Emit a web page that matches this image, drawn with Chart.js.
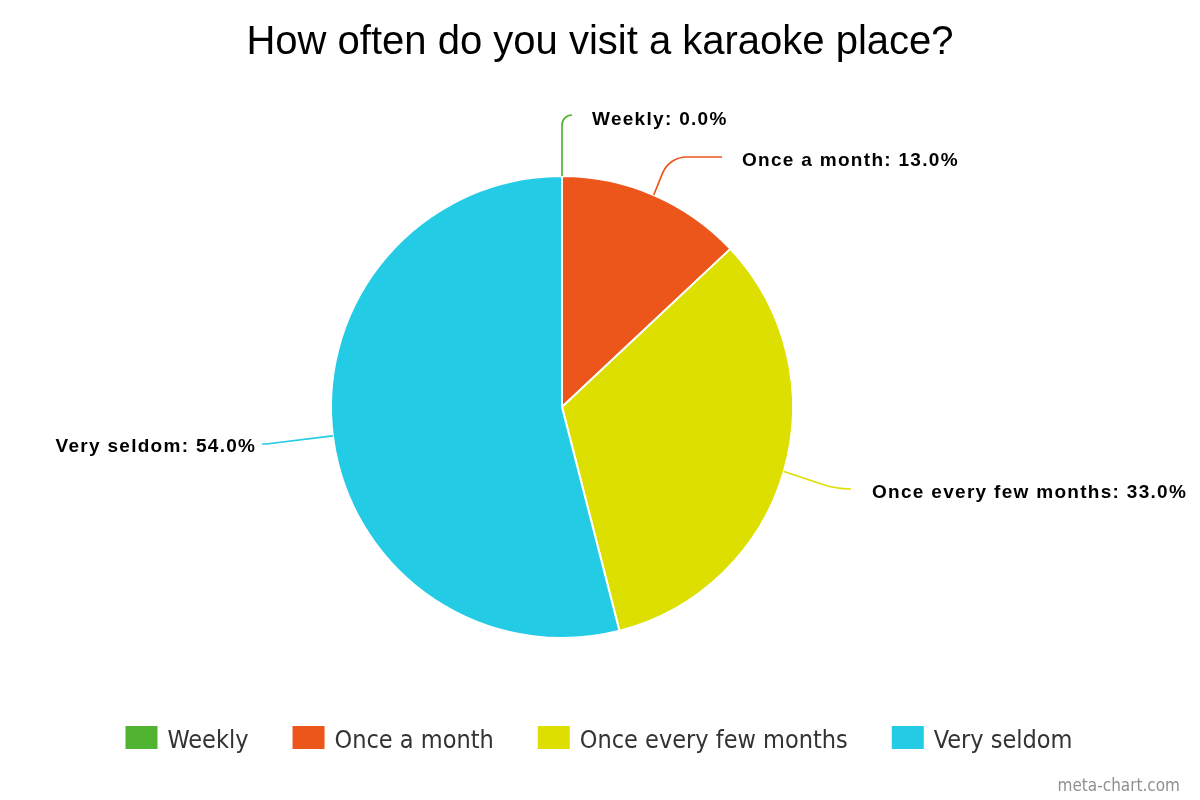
<!DOCTYPE html>
<html><head><meta charset="utf-8">
<script src="https://cdn.jsdelivr.net/npm/chart.js@4/dist/chart.umd.min.js"></script>
<style>html,body{margin:0;padding:0;background:#fff}#wrap{width:1200px;height:800px;position:relative}</style>
</head><body><div id="wrap"><canvas id="c" width="1200" height="800"></canvas></div>
<script>
const titleText = 'How often do you visit a karaoke place?';
const categories = ['Weekly', 'Once a month', 'Once every few months', 'Very seldom'];
const shares = [0.0, 13.0, 33.0, 54.0];
const sliceColors = ['#50B432', '#ED561B', '#DDDF00', '#24CBE5'];
const creditText = 'meta-chart.com';

const labelLayout = [
  {corner: [562, 115], end: [572, 115], r: 10, tx: 592, ty: 120, align: 'left'},
  {corner: [669, 157], end: [722, 157], r: 26, tx: 742, ty: 161, align: 'left'},
  {corner: [836, 489], end: [851, 489], r: 85, tx: 872, ty: 493, align: 'left'},
  {corner: [266, 444], end: [262, 444], r: 2, tx: 255, ty: 447, align: 'right'}
];

const decorPlugin = {
  id: 'decor',
  afterDatasetsDraw(chart) {
    const ctx = chart.ctx;
    const meta = chart.getDatasetMeta(0);
    const ds = chart.data.datasets[0];
    ctx.save();
    meta.data.forEach((arc, i) => {
      const p = arc.getProps(['x', 'y', 'startAngle', 'endAngle', 'outerRadius'], true);
      const mid = (p.startAngle + p.endAngle) / 2;
      const ex = p.x + p.outerRadius * Math.cos(mid);
      const ey = p.y + p.outerRadius * Math.sin(mid);
      const L = labelLayout[i];
      ctx.beginPath();
      ctx.moveTo(ex, ey);
      ctx.arcTo(L.corner[0], L.corner[1], L.end[0], L.end[1], L.r);
      ctx.lineTo(L.end[0], L.end[1]);
      ctx.strokeStyle = ds.backgroundColor[i];
      ctx.lineWidth = 1.7;
      ctx.stroke();
      ctx.font = 'bold 19px "Liberation Sans", Arial, sans-serif';
      ctx.letterSpacing = '1.3px';
      ctx.fillStyle = '#000';
      ctx.textBaseline = 'middle';
      ctx.textAlign = L.align;
      const txt = chart.data.labels[i] + ': ' + ds.data[i].toFixed(1) + '%';
      ctx.fillText(txt, L.align === 'right' ? L.tx + 1.3 : L.tx, L.ty);
    });
    ctx.restore();
  },
  afterDraw(chart) {
    const ctx = chart.ctx;
    const ds = chart.data.datasets[0];
    ctx.save();
    // title
    ctx.letterSpacing = '0px';
    ctx.font = '40px "Liberation Sans", Arial, sans-serif';
    ctx.fillStyle = '#000';
    ctx.textAlign = 'center';
    ctx.textBaseline = 'alphabetic';
    ctx.fillText(titleText, 600, 54);
    // legend
    ctx.font = '25px "DejaVu Sans Condensed", "DejaVu Sans", sans-serif';
    const boxW = 32, boxH = 23, gapT = 10, gapI = 44;
    const widths = chart.data.labels.map(l => ctx.measureText(l).width);
    let total = widths.reduce((a, w) => a + boxW + gapT + w, 0) + gapI * (widths.length - 1);
    let x = 599 - total / 2;
    ctx.textAlign = 'left';
    chart.data.labels.forEach((l, i) => {
      ctx.fillStyle = ds.backgroundColor[i];
      ctx.fillRect(x, 726, boxW, boxH);
      ctx.fillStyle = '#333333';
      ctx.fillText(l, x + boxW + gapT, 748);
      x += boxW + gapT + widths[i] + gapI;
    });
    // credit
    ctx.font = '17px "DejaVu Sans Condensed", "DejaVu Sans", sans-serif';
    ctx.fillStyle = '#909090';
    ctx.textAlign = 'right';
    ctx.fillText(creditText, 1180, 791);
    ctx.restore();
  }
};

new Chart(document.getElementById('c'), {
  type: 'pie',
  data: {
    labels: categories,
    datasets: [{
      data: shares,
      backgroundColor: sliceColors,
      borderColor: '#ffffff',
      borderWidth: 2
    }]
  },
  options: {
    responsive: false,
    devicePixelRatio: 1,
    animation: false,
    layout: {padding: {left: 330, right: 406, top: 175, bottom: 161}},
    plugins: {
      legend: {display: false},
      title: {display: false},
      tooltip: {enabled: false}
    }
  },
  plugins: [decorPlugin]
});
</script>
</body></html>
